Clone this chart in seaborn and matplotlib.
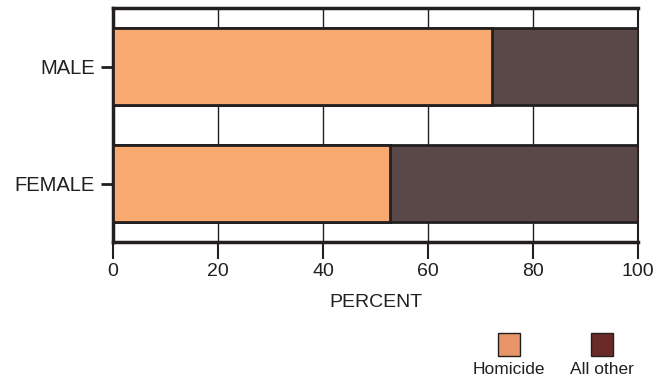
import matplotlib
matplotlib.use("Agg")
import matplotlib.pyplot as plt
from matplotlib.patches import Rectangle
import pandas as pd
import seaborn as sns

# data
sexes = ["MALE", "FEMALE"]
homicide = [72.2, 52.8]
all_other = [27.8, 47.2]
x_ticks = [0, 20, 40, 60, 80, 100]

sns.set_style("white")
plt.rcParams["font.family"] = ["Liberation Sans", "DejaVu Sans"]

df = pd.DataFrame({"sex": sexes, "homicide": homicide, "all_other": all_other})
df["total"] = df["homicide"] + df["all_other"]

fig = plt.figure(figsize=(6.58, 3.79), dpi=100)
ax = fig.add_axes([113 / 658, 1 - 242 / 379, 525 / 658, 234 / 379])

# stacked bars: total first, homicide on top
sns.barplot(df, x="total", y="sex", orient="h", color="#5a4848", width=0.65,
            edgecolor="#231f20", linewidth=2, saturation=1, ax=ax, zorder=3)
sns.barplot(df, x="homicide", y="sex", orient="h", color="#f7a970", width=0.65,
            edgecolor="#231f20", linewidth=2, saturation=1, ax=ax, zorder=4)

ax.set_xlim(0, 100)
ax.set_ylim(1.5, -0.5)
ax.set_xticks(x_ticks)
ax.set_xticklabels([str(t) for t in x_ticks], fontsize=14, color="#231f20")
ax.tick_params(axis="x", direction="out", length=12, width=1.5, color="#231f20", pad=3, bottom=True)
ax.tick_params(axis="y", direction="out", length=9, width=2, color="#231f20", pad=4, left=True)
for lbl in ax.get_yticklabels():
    lbl.set_fontsize(14.5)
    lbl.set_color("#231f20")

ax.xaxis.grid(True, color="#231f20", linewidth=1, zorder=0)
ax.set_axisbelow(True)
for side in ["top", "bottom", "left", "right"]:
    ax.spines[side].set_visible(True)
    ax.spines[side].set_color("#231f20")
ax.spines["top"].set_linewidth(2.5)
ax.spines["bottom"].set_linewidth(2.5)
ax.spines["left"].set_linewidth(2.5)
ax.spines["right"].set_linewidth(1.5)

ax.set_xlabel("PERCENT", fontsize=14, color="#231f20", labelpad=10)
ax.set_ylabel("")

# legend: swatches with labels underneath
legend_items = [("Homicide", "#e8956a", 509), ("All other", "#6b2a25", 602)]
for name, col, cx in legend_items:
    fig.add_artist(Rectangle(((cx - 11) / 658, 1 - 356 / 379), 22 / 658, 23 / 379,
                             transform=fig.transFigure, facecolor=col,
                             edgecolor="#231f20", linewidth=1))
    fig.text(cx / 658, 1 - 369 / 379, name, ha="center", va="center",
             fontsize=12.5, color="#231f20")

fig.savefig("out.png", dpi=100)
